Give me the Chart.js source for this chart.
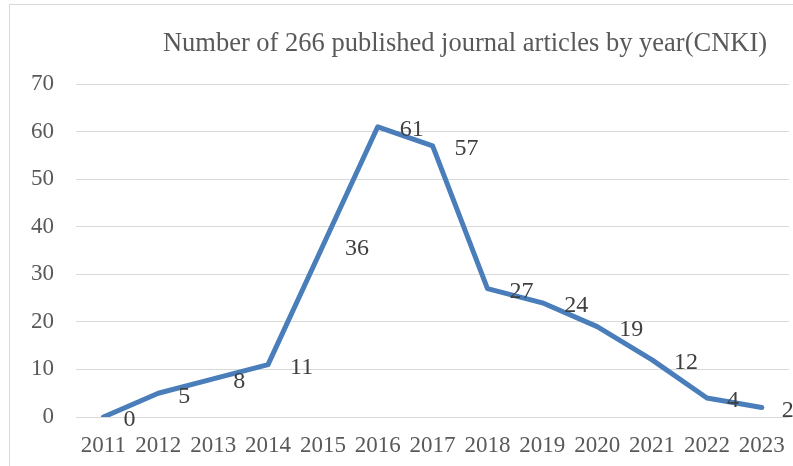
<!DOCTYPE html>
<html>
<head>
<meta charset="utf-8">
<script src="https://cdn.jsdelivr.net/npm/chart.js@4.4.0/dist/chart.umd.min.js"></script>
<style>
  html, body { margin: 0; padding: 0; background: #fff; overflow: hidden; }
  #wrap { position: absolute; left: 0; top: 0; width: 800px; height: 466px; }
</style>
</head>
<body>
<div id="wrap"><canvas id="myChart" width="800" height="466"></canvas></div>
<script>
var years = ['2011', '2012', '2013', '2014', '2015', '2016', '2017', '2018', '2019', '2020', '2021', '2022', '2023'];
var articles = [0, 5, 8, 11, 36, 61, 57, 27, 24, 19, 12, 4, 2];
var yTicks = [0, 10, 20, 30, 40, 50, 60, 70];
var titleText = 'Number of 266 published journal articles by year(CNKI)';

var serif = "'Liberation Serif', 'Times New Roman', serif";

// frame + title, Excel style
var frameAndTitle = {
    id: 'frameAndTitle',
    beforeDraw: function(chart) {
        var ctx = chart.ctx;
        ctx.save();
        ctx.strokeStyle = '#d9d9d9';
        ctx.lineWidth = 1;
        ctx.strokeRect(9.5, 4.5, 2000, 2000);
        ctx.fillStyle = '#595959';
        ctx.font = '26.5px ' + serif;
        ctx.textAlign = 'center';
        ctx.textBaseline = 'middle';
        ctx.fillText(titleText, 465, 44);
        ctx.restore();
    }
};

// value labels to the right of each point
var valueLabels = {
    id: 'valueLabels',
    afterDatasetsDraw: function(chart) {
        var ctx = chart.ctx;
        var meta = chart.getDatasetMeta(0);
        ctx.save();
        ctx.fillStyle = '#404040';
        ctx.font = '24px ' + serif;
        ctx.textAlign = 'left';
        ctx.textBaseline = 'middle';
        meta.data.forEach(function(pt, i) {
            var dx = articles[i] >= 10 ? 22 : 20;
            ctx.fillText(String(articles[i]), pt.x + dx, pt.y + 3);
        });
        ctx.restore();
    }
};

var ctx = document.getElementById('myChart').getContext('2d');
new Chart(ctx, {
    type: 'line',
    data: {
        labels: years,
        datasets: [{
            label: 'Articles',
            data: articles,
            borderColor: '#4a7ebb',
            borderWidth: 5,
            borderCapStyle: 'round',
            borderJoinStyle: 'round',
            pointRadius: 0,
            tension: 0,
            fill: false
        }]
    },
    options: {
        responsive: false,
        animation: false,
        layout: { padding: { top: 84, right: 5, bottom: 0, left: 0 } },
        plugins: {
            legend: { display: false },
            title: { display: false },
            tooltip: { enabled: false }
        },
        scales: {
            x: {
                offset: true,
                afterFit: function(scale) { scale.height = 49; },
                grid: { display: false, drawTicks: false },
                border: { display: false },
                ticks: {
                    color: '#595959',
                    font: { family: serif, size: 23 },
                    padding: 15,
                    maxRotation: 0,
                    autoSkip: false
                }
            },
            y: {
                min: 0,
                max: 70,
                afterFit: function(scale) { scale.width = 76; },
                afterBuildTicks: function(scale) {
                    scale.ticks = yTicks.map(function(v) { return { value: v }; });
                },
                grid: { color: '#d9d9d9', lineWidth: 1, drawTicks: false },
                border: { display: false },
                ticks: {
                    color: '#595959',
                    font: { family: serif, size: 23 },
                    padding: 22
                }
            }
        }
    },
    plugins: [frameAndTitle, valueLabels]
});
</script>
</body>
</html>
